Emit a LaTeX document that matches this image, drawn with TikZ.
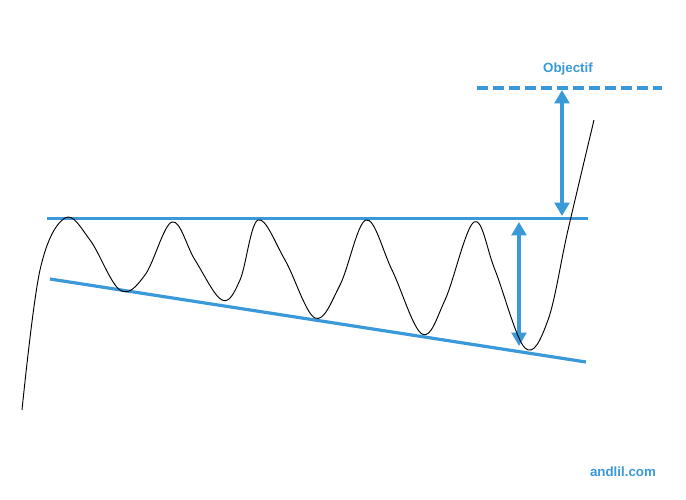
\documentclass[tikz,border=0pt]{standalone}
\usepackage{fontspec}
\setmainfont{Liberation Sans}
\usetikzlibrary{arrows.meta}
\definecolor{bl}{HTML}{3A9AD9}
\begin{document}
\begin{tikzpicture}[x=0.75pt,y=-0.75pt,
  bline/.style={bl,line width=2.4pt},
  darr/.style={bl,line width=2.4pt,{Triangle[length=10pt,width=11pt]}-{Triangle[length=10pt,width=11pt]}},
  lab/.style={bl,font=\bfseries}]
\useasboundingbox (0,0) rectangle (686,500);
\draw[bline] (47,218.5) -- (588,218.5);
\draw[bline] (50,279) -- (586,362);
\draw[bline,dash pattern=on 8pt off 4pt] (477,88) -- (662,88);
\coordinate (a1) at (562,90); \coordinate (a2) at (562,216);
\coordinate (b1) at (519,222); \coordinate (b2) at (519,346);
\draw[darr] (a1) -- (a2);
\draw[darr] (b1) -- (b2);
\node[lab] (obj) at (568,69) {Objectif};
\node[lab] (site) at (623,472) {andlil.com};
\draw[black,line width=0.7pt] plot[smooth,tension=0.6] coordinates{
 (22,410) (40,270) (65,218) (90,240) (120,290) (145,275) (172,222) (195,260) (222,300) (240,280) (258,220) (285,260) (315,318) (340,285) (366,220) (392,270) (422,334) (445,300) (474,222) (495,270) (525,348) (548,320) (568,230) (594,120)};
\end{tikzpicture}
\end{document}
